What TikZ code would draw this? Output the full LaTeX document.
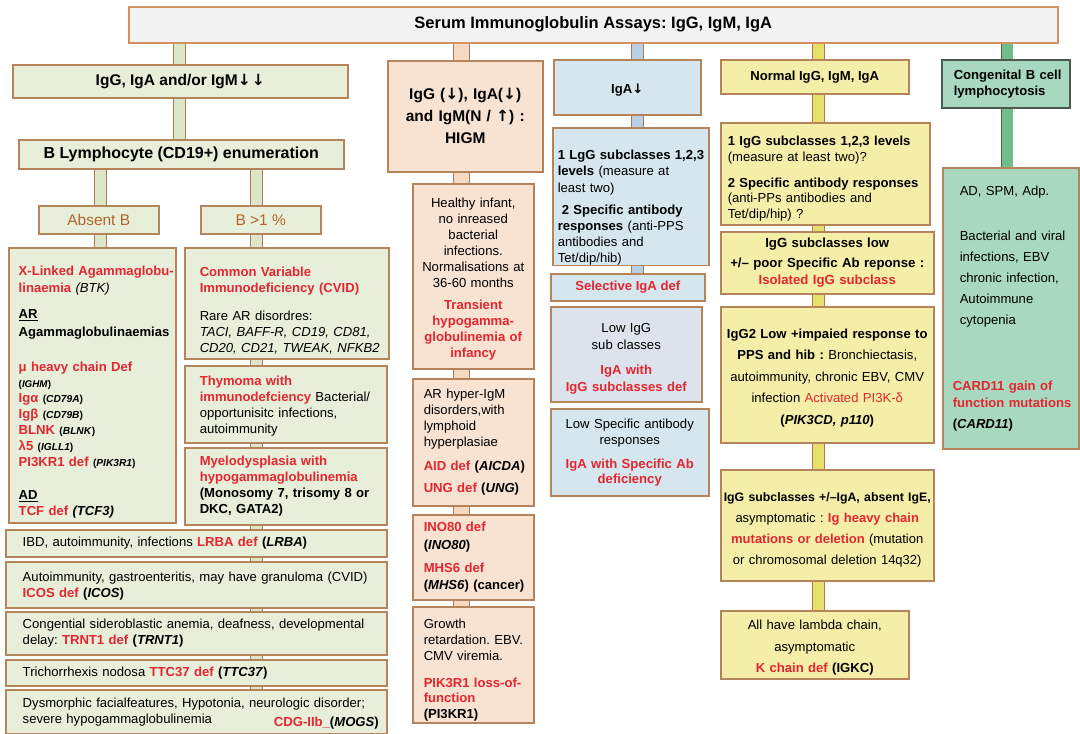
\documentclass[tikz,border=0pt]{standalone}
\usepackage{fontspec}
\setmainfont{Liberation Sans}
\newfontfamily\symf{DejaVu Sans}
\usetikzlibrary{backgrounds}
\definecolor{rd}{HTML}{E3262F}
\definecolor{brtxt}{HTML}{B0652A}
\definecolor{brd}{HTML}{B5845A}
\definecolor{tbrd}{HTML}{D39060}
\definecolor{bbrd}{HTML}{A87A55}
\definecolor{gfill}{HTML}{E7EEDA}
\definecolor{pfill}{HTML}{F8E2D2}
\definecolor{bfill}{HTML}{D5E6EF}
\definecolor{bfillb}{HTML}{DCE3EC}
\definecolor{yfill}{HTML}{F5EEA8}
\definecolor{cfill}{HTML}{A9D8C1}
\definecolor{tfill}{HTML}{F2F2F2}
\definecolor{gbarc}{HTML}{DCE6C8}
\definecolor{pbarc}{HTML}{F5D9C3}
\definecolor{bbarc}{HTML}{B9CFE6}
\definecolor{ybarc}{HTML}{E8E06C}
\definecolor{cbarc}{HTML}{6DBE8A}
\definecolor{cbrd}{HTML}{4D5A52}
\frenchspacing
\newcommand\fs[2]{\fontsize{#1}{#2}\selectfont}
\newcommand\rd[1]{{\color{rd}\bfseries #1}}
\newcommand\ardn{{\symf ↓}}
\newcommand\arup{{\symf ↑}}
\newcommand\ml[1]{\mbox{#1}}
\newcommand\tsh[1]{\rule{0pt}{#1}}
\begin{document}
\begin{tikzpicture}[x=1pt,y=-1pt,
  bx/.style={draw=brd, line width=1.5pt, rectangle, anchor=north west, inner ysep=0pt, inner xsep=3pt, font=\fs{13.1}{16}},
  gbox/.style={bx, fill=gfill},
  pbox/.style={bx, fill=pfill},
  blbox/.style={bx, fill=bfill},
  ybox/.style={bx, fill=yfill},
  cbox/.style={bx, fill=cfill},
  lt/.style 2 args={inner xsep=#1, text width=#2, align=left},
  ct/.style={inner xsep=3pt, text width=#1, align=center},
  sz/.style 2 args={minimum width=#1, minimum height=#2},
  gbar/.style={draw=bbrd, line width=1pt, double=gbarc, double distance=11pt},
  pbar/.style={draw=bbrd, line width=1pt, double=pbarc, double distance=15pt},
  bbar/.style={draw=bbrd, line width=1pt, double=bbarc, double distance=11pt},
  ybar/.style={draw=bbrd, line width=1pt, double=ybarc, double distance=11pt},
  cbar/.style={draw=bbrd!70!black, line width=0.8pt, double=cbarc, double distance=11pt}]
\useasboundingbox (0,0) rectangle (1080,734);

% top
\node[bx, fill=tfill, draw=tbrd, sz={929pt}{36pt}, font=\bfseries\fs{16.5}{18}] (top) at (128,6) {Serum Immunoglobulin Assays: IgG, IgM, IgA};

% column 1
\node[gbox, sz={335pt}{33pt}, font=\bfseries\fs{15.5}{18}] (n1) at (12,64) {IgG, IgA and/or IgM\ardn\kern1pt\ardn};
\node[gbox, sz={325pt}{29pt}, font=\bfseries\fs{16}{18}] (n2) at (18,139) {B Lymphocyte (CD19+) enumeration};
\node[gbox, sz={120pt}{28pt}, text=brtxt, font=\fs{15.5}{18}] (n3) at (38,205) {Absent B};
\node[gbox, sz={120pt}{28pt}, text=brtxt, font=\fs{15.5}{18}] (n4) at (200,205) {B >1 \%};

\node[gbox, sz={167pt}{275pt}, lt={10pt}{147pt}, font=\bfseries\fs{13.1}{16}] (n5) at (8,247) {%
\tsh{24pt}\ml{\rd{X-Linked Agammaglobu-}}\\[1pt]
\ml{\rd{linaemia} \textmd{\textit{(BTK)}}}\\[10pt]
\underline{AR}\\[2pt]
\ml{Agammaglobulinaemias}\\[19pt]
\ml{\rd{μ heavy chain Def}}\\
{\fs{9.8}{12}(\textit{IGHM})}\\[-1pt]
\ml{\rd{Igα} {\fs{10.2}{12}(\textit{CD79A})}}\\
\ml{\rd{Igβ} {\fs{10.2}{12}(\textit{CD79B})}}\\
\ml{\rd{BLNK} {\fs{10.2}{12}(\textit{BLNK})}}\\
\ml{\rd{λ5} {\fs{10.2}{12}(\textit{IGLL1})}}\\
\ml{\rd{PI3KR1 def} {\fs{10.2}{12}(\textit{PIK3R1})}}\\[17pt]
\underline{AD}\\
\ml{\rd{TCF def} \textit{(TCF3)}}};

\node[gbox, sz={204pt}{111pt}, lt={15pt}{174pt}] (n6) at (184,247) {%
\tsh{25pt}\ml{\rd{Common Variable}}\\
\ml{\rd{Immunodeficiency (CVID)}}\\[12pt]
\ml{Rare AR disordres:}\\
\ml{\textit{TACI, BAFF-R, CD19, CD81,}}\\
\ml{\textit{CD20, CD21, TWEAK, NFKB2}}};

\node[gbox, sz={202pt}{77pt}, lt={15pt}{172pt}] (n7) at (184,365) {%
\tsh{13pt}\ml{\rd{Thymoma with}}\\
\ml{\rd{immunodefciency} Bacterial/}\\
\ml{opportunisitc infections,}\\
autoimmunity};

\node[gbox, sz={202pt}{77pt}, lt={15pt}{172pt}, font=\bfseries\fs{13.1}{16}] (n8) at (184,447) {%
\ml{\rd{Myelodysplasia with}}\\
\ml{\rd{hypogammaglobulinemia}}\\
\ml{(Monosomy 7, trisomy 8 or}\\
\ml{DKC, GATA2)}};

\node[gbox, sz={381pt}{27pt}, lt={17pt}{347pt}] (r1) at (5,529) {%
\ml{IBD, autoimmunity, infections \rd{LRBA def} \textbf{(\textit{LRBA})}}};
\node[gbox, sz={381pt}{46pt}, lt={17pt}{347pt}] (r2) at (5,561) {%
\tsh{13pt}\ml{Autoimmunity, gastroenteritis, may have granuloma (CVID)}\\
\ml{\rd{ICOS def} \textbf{(\textit{ICOS})}}};
\node[gbox, sz={381pt}{43pt}, lt={17pt}{347pt}] (r3) at (5,611) {%
\ml{Congential sideroblastic anemia, deafness, developmental}\\
\ml{delay: \rd{TRNT1 def} \textbf{(\textit{TRNT1})}}};
\node[gbox, sz={381pt}{26pt}, lt={17pt}{347pt}] (r4) at (5,659) {%
\ml{Trichorrhexis nodosa \rd{TTC37 def} \textbf{(\textit{TTC37})}}};
\node[gbox, sz={381pt}{44pt}, lt={17pt}{347pt}] (r5) at (5,689) {%
\tsh{14pt}\ml{Dysmorphic facialfeatures, Hypotonia, neurologic disorder;}\\
\makebox[356pt][l]{severe hypogammaglobulinemia\hfill\raisebox{-3pt}{\rd{CDG-IIb\_}\textbf{(\textit{MOGS})}}}};

% column 2
\node[pbox, sz={155pt}{111pt}, ct={149pt}, font=\bfseries\fs{15.5}{22}] (n9) at (387,60) {%
IgG (\ardn), IgA(\ardn)\\ and IgM(N / \arup) :\\ HIGM};
\node[pbox, sz={121pt}{185pt}, ct={115pt}] (n10) at (412,183) {%
\tsh{16pt}Healthy infant,\\ no inreased\\ bacterial\\ infections.\\ \ml{Normalisations at}\\ 36-60 months\\[6pt]
\rd{Transient\\ hypogamma-\\ \ml{globulinemia of}\\ infancy}};
\node[pbox, sz={121pt}{127pt}, lt={11pt}{99pt}] (n11) at (412,378) {%
AR hyper-IgM\\ \ml{disorders,with}\\ lymphoid\\ hyperplasiae\\[8pt]
\ml{\rd{AID def} \textbf{(\textit{AICDA})}}\\[6pt]
\ml{\rd{UNG def} \textbf{(\textit{UNG})}}};
\node[pbox, sz={121pt}{85pt}, lt={11pt}{99pt}] (n12) at (412,514) {%
\rd{INO80 def}\\[2pt] \textbf{(\textit{INO80})}\\[7pt]
\rd{MHS6 def}\\[1pt] \ml{\textbf{(\textit{MHS6}) (cancer)}}};
\node[pbox, sz={121pt}{116pt}, lt={11pt}{99pt}] (n13) at (412,606) {%
\tsh{20pt}Growth\\ \ml{retardation. EBV.}\\ CMV viremia.\\[11pt]
\ml{\rd{PIK3R1 loss-of-}}\\[-1pt] \rd{function}\\ \textbf{(PI3KR1)}};

% column 3
\node[blbox, sz={147pt}{55pt}, font=\bfseries\fs{13.1}{16}] (n14) at (553,59) {\tsh{15pt}IgA\ardn};
\node[blbox, sz={156pt}{136pt}, lt={5pt}{146pt}] (n15) at (552,127) {%
\tsh{32pt}\ml{\textbf{1 LgG subclasses 1,2,3}}\\
\ml{\textbf{levels} (measure at}\\[1pt]
least two)\\[6pt]
\hspace*{4pt}\ml{\textbf{2 Specific antibody}}\\
\ml{\textbf{responses} (anti-PPS}\\
antibodies and\\
Tet/dip/hib)};
\node[blbox, sz={154pt}{27pt}] (n16) at (550,273) {\rd{Selective IgA def}};
\node[bx, fill=bfillb, sz={151pt}{95pt}, ct={145pt}] (n17) at (550,306) {%
\tsh{18pt}Low IgG\\[1pt] sub classes\\[9pt] \rd{IgA with\\[1pt] \ml{IgG subclasses def}}};
\node[blbox, sz={158pt}{87pt}, ct={152pt}] (n18) at (550,408) {%
\ml{Low Specific antibody}\\ responses\\[8pt] \rd{\ml{IgA with Specific Ab}\\[-1pt] deficiency}};

% column 4
\node[ybox, sz={188pt}{34pt}, font=\bfseries\fs{13.1}{16}] (n19) at (720,59) {Normal IgG, IgM, IgA};
\node[ybox, sz={209pt}{102pt}, lt={7pt}{195pt}] (n20) at (720,122) {%
\tsh{20pt}\ml{\textbf{1 IgG subclasses 1,2,3 levels}}\\
(measure at least two)?\\[10pt]
\ml{\textbf{2 Specific antibody responses}}\\[-1pt]
(anti-PPs antibodies and\\
Tet/dip/hip) ?};
\node[ybox, sz={213pt}{62pt}, ct={207pt}, font=\bfseries\fs{13.2}{16}] (n21) at (720,231) {%
IgG subclasses low\\[4pt] \ml{+/– poor Specific Ab reponse :}\\[1pt] \rd{Isolated IgG subclass}};
\node[ybox, sz={213pt}{136pt}, ct={207pt}, font=\fs{13.1}{21.5}] (n22) at (720,306) {%
\tsh{16pt}\ml{\textbf{IgG2 Low +impaied response to}}\\
\ml{\textbf{PPS and hib :} Bronchiectasis,}\\
\ml{autoimmunity, chronic EBV, CMV}\\
infection {\color{rd}Activated PI3K-δ}\\
\textbf{(\textit{PIK3CD, p110})}};
\node[ybox, sz={213pt}{111pt}, ct={207pt}, font=\fs{13}{21}] (n23) at (720,469) {%
\tsh{18pt}\ml{\fs{12.3}{21}\textbf{IgG subclasses +/–IgA, absent IgE,}}\\
\ml{asymptomatic : \rd{Ig heavy chain}}\\
\ml{\rd{mutations or deletion} (mutation}\\
\ml{or chromosomal deletion 14q32)}};
\node[ybox, sz={188pt}{68pt}, ct={182pt}, font=\fs{13.1}{21.5}] (n24) at (720,610) {%
\tsh{16pt}All have lambda chain,\\ asymptomatic\\ \rd{K chain def} \textbf{(IGKC)}};

% column 5
\node[cbox, draw=cbrd, sz={128pt}{48pt}, lt={12pt}{104pt}, font=\bfseries\fs{13.1}{16}] (n25) at (941,59) {%
\ml{Congenital B cell}\\ lymphocytosis};
\node[cbox, sz={136pt}{281pt}, lt={17pt}{102pt}, font=\fs{13.1}{21}] (n26) at (942,167) {%
AD, SPM, Adp.\\[24pt]
\ml{Bacterial and viral}\\
infections, EBV\\
\ml{chronic infection,}\\
Autoimmune\\
cytopenia\\[45pt]
\hspace*{-7pt}\ml{\rd{CARD11 gain of}}\\[-4pt]
\hspace*{-7pt}\ml{\rd{function mutations}}\\
\hspace*{-7pt}\textbf{(\textit{CARD11})}};

% connectors
\coordinate (c1) at (179,0);
\coordinate (c1a) at (100,0);
\coordinate (c1b) at (256.5,0);
\coordinate (c2) at (461.5,0);
\coordinate (c3) at (637.5,0);
\coordinate (c4) at (818,0);
\coordinate (c5) at (1007,0);
\begin{scope}[on background layer]
\fill[white] (0,0) rectangle (1080,734);
\draw[gbar] (top.south -| c1) -- (n1.north -| c1);
\draw[gbar] (n1.south -| c1) -- (n2.north -| c1);
\draw[gbar] (n2.south -| c1a) -- (n3.north -| c1a);
\draw[gbar] (n2.south -| c1b) -- (n4.north -| c1b);
\draw[gbar] (n3.south -| c1a) -- (n5.north -| c1a);
\draw[gbar] (n4.south -| c1b) -- (n6.north -| c1b);
\draw[gbar] (n6.south -| c1b) -- (n7.north -| c1b);
\draw[gbar] (n7.south -| c1b) -- (n8.north -| c1b);
\draw[gbar] (n8.south -| c1b) -- (r1.north -| c1b);
\draw[gbar] (r1.south -| c1b) -- (r2.north -| c1b);
\draw[gbar] (r2.south -| c1b) -- (r3.north -| c1b);
\draw[gbar] (r3.south -| c1b) -- (r4.north -| c1b);
\draw[gbar] (r4.south -| c1b) -- (r5.north -| c1b);
\draw[pbar] (top.south -| c2) -- (n9.north -| c2);
\draw[pbar] (n9.south -| c2) -- (n10.north -| c2);
\draw[pbar] (n10.south -| c2) -- (n11.north -| c2);
\draw[pbar] (n11.south -| c2) -- (n12.north -| c2);
\draw[pbar] (n12.south -| c2) -- (n13.north -| c2);
\draw[bbar] (top.south -| c3) -- (n14.north -| c3);
\draw[bbar] (n14.south -| c3) -- (n15.north -| c3);
\draw[bbar] (n15.south -| c3) -- (n16.north -| c3);
\draw[ybar] (top.south -| c4) -- (n19.north -| c4);
\draw[ybar] (n19.south -| c4) -- (n20.north -| c4);
\draw[ybar] (n20.south -| c4) -- (n21.north -| c4);
\draw[ybar] (n21.south -| c4) -- (n22.north -| c4);
\draw[ybar] (n22.south -| c4) -- (n23.north -| c4);
\draw[ybar] (n23.south -| c4) -- (n24.north -| c4);
\draw[cbar] (top.south -| c5) -- (n25.north -| c5);
\draw[cbar] (n25.south -| c5) -- (n26.north -| c5);
\end{scope}
\end{tikzpicture}
\end{document}
